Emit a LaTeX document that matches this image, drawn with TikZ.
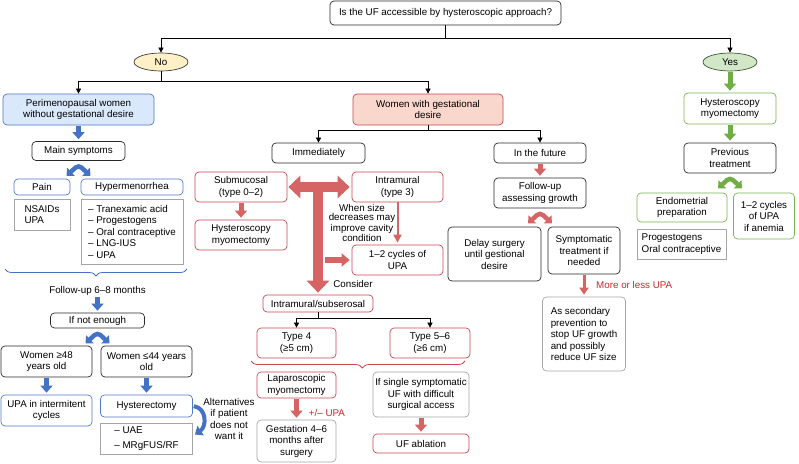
\documentclass[tikz,border=0pt]{standalone}
\usepackage{fontspec}
\setmainfont{Liberation Sans}
\usetikzlibrary{arrows.meta,shapes.geometric,decorations.pathreplacing,calc}
\definecolor{boxblack}{RGB}{40,40,40}
\definecolor{ufblue}{RGB}{80,120,200}
\definecolor{perifill}{RGB}{218,232,252}
\definecolor{ufred}{RGB}{200,70,80}
\definecolor{wgdfill}{RGB}{250,215,205}
\definecolor{ufgreen}{RGB}{120,180,80}
\definecolor{ufgray}{RGB}{165,165,165}
\definecolor{nofill}{RGB}{255,240,200}
\definecolor{noline}{RGB}{60,60,60}
\definecolor{yesfill}{RGB}{210,230,200}
\definecolor{yesline}{RGB}{60,90,50}
\definecolor{arrowblue}{RGB}{68,114,196}
\definecolor{arrowred}{RGB}{215,100,100}
\definecolor{arrowgreen}{RGB}{112,173,71}
\definecolor{upared}{RGB}{200,40,40}
\begin{document}
\begin{tikzpicture}[
x=1pt, y=-1pt,
font=\fontsize{9.8}{11.5}\selectfont,
>={Triangle[width=5pt,length=5pt]},
sz/.style 2 args={minimum width=#1pt, minimum height=#2pt},
base/.style={
  draw,
  rounded corners=4pt,
  align=center,
  inner sep=1pt,
  line width=0.7pt
  },
blkbox/.style={base, draw=boxblack},
bluebox/.style={base, draw=ufblue},
redbox/.style={base, draw=ufred},
greenbox/.style={base, draw=ufgreen},
graybox/.style={base, draw=ufgray},
listbox/.style={graybox, sharp corners, align=left},
answer/.style={ellipse, draw, inner sep=0pt, minimum width=54pt, minimum height=18pt, line width=0.7pt},
note/.style={align=center, inner sep=0pt},
link/.style={->, line width=0.6pt},
blockarrow/.style={line width=5pt, -{Triangle[width=12pt,length=7pt]}, shorten <=1pt, shorten >=2pt},
bluearrow/.style={blockarrow, draw=arrowblue},
redarrow/.style={blockarrow, draw=arrowred},
greenarrow/.style={blockarrow, draw=arrowgreen},
fork/.style={line width=4.5pt, rounded corners=4pt, {Triangle[width=11pt,length=6pt]}-{Triangle[width=11pt,length=6pt]}},
bigtip/.style={line width=10pt, -{Triangle[width=22pt,length=12pt]}},
fancybrace/.style={decorate, decoration={brace, mirror, amplitude=7pt, #1}, line width=0.8pt}
]
\useasboundingbox (0,0) rectangle (799,463);

% question and answers
\node[blkbox, sz={231}{24}] (q) at (445.5,13) {Is the UF accessible by hysteroscopic approach?};
\node[answer, fill=nofill, draw=noline] (no) at (161,62) {No};
\node[answer, fill=yesfill, draw=yesline] (yes) at (730,62) {Yes};

\node[bluebox, fill=perifill, sz={151}{31}] (peri) at (78.5,109.5) {Perimenopausal women\\without gestational desire};
\node[redbox, fill=wgdfill, sz={150}{31}] (wgd) at (428,109.5) {Women with gestational\\desire};
\node[greenbox, sz={92}{31}] (hm1) at (730,108.5) {Hysteroscopy\\myomectomy};

% without gestational desire
\node[blkbox, sz={93}{19}] (ms) at (78.5,151) {Main symptoms};
\node[bluebox, sz={56}{16}] (pain) at (42,187) {Pain};
\node[bluebox, sz={102}{16}] (hyper) at (132,187) {Hypermenorrhea};
\node[listbox, sz={56}{31}] (nsaid) at (42,214.5) {NSAIDs\\UPA};
\node[listbox, sz={102}{65}] (hlist) at (132,231.5) {– Tranexamic acid\\– Progestogens\\– Oral contraceptive\\– LNG-IUS\\– UPA};
\node[note] (fu) at (97.5,291) {Follow-up 6–8 months};
\node[blkbox, sz={94}{15}] (ne) at (97.5,320.5) {If not enough};
\node[blkbox, sz={91}{31}] (w48) at (46.5,361.5) {Women ≥48\\years old};
\node[blkbox, sz={91}{31}] (w44) at (146.5,361.5) {Women ≤44 years\\old};
\node[bluebox, sz={91}{31}] (upa) at (46.5,410.5) {UPA in intermitent\\cycles};
\node[bluebox, sz={92}{22}] (hyst) at (146.5,406) {Hysterectomy};
\node[listbox, sz={92}{31}] (alt) at (146.5,438.5) {– UAE\\[3pt]– MRgFUS/RF};
\node[note] (alttxt) at (229,419) {Alternatives\\if patient\\does not\\want it};

% with gestational desire
\node[blkbox, sz={93}{20}] (imm) at (318.5,153) {Immediately};
\node[blkbox, sz={92}{20}] (fut) at (540,153) {In the future};
\node[redbox, sz={92}{30}] (sub) at (241,187) {Submucosal\\(type 0–2)};
\node[redbox, sz={92}{30}] (hm2) at (241,235) {Hysteroscopy\\myomectomy};
\node[redbox, sz={91}{30}] (intra) at (397.5,187) {Intramural\\(type 3)};
\node[redbox, sz={91}{30}] (cyc) at (397.5,260) {1–2 cycles of\\UPA};
\node[note, font=\fontsize{9.8}{9}\selectfont] (when) at (362,223) {When size\\decreases may\\improve cavity\\condition};
\node[note] (cons) at (353,284) {Consider};
\node[redbox, sz={110}{17}] (ims) at (318,303.5) {Intramural/subserosal};
\node[redbox, sz={79}{30}] (t4) at (296.5,343) {Type 4\\(≥5 cm)};
\node[redbox, sz={80}{30}] (t56) at (430,343) {Type 5–6\\(≥6 cm)};
\node[redbox, sz={79}{26}] (lap) at (296.5,385) {Laparoscopic\\myomectomy};
\node[note, text=upared] (pmupa) at (327,413) {+/– UPA};
\node[graybox, sz={79}{42}] (gest) at (296.5,441) {Gestation 4–6\\months after\\surgery};
\node[graybox, sz={96}{45}] (single) at (421,394.5) {If single symptomatic\\UF with difficult\\surgical access};
\node[redbox, sz={96}{19}] (abl) at (421,443.5) {UF ablation};

\node[blkbox, sz={92}{30}] (fag) at (540,193) {Follow-up\\assessing growth};
\node[blkbox, sz={93}{54}] (delay) at (494.5,254) {Delay surgery\\until gestional\\desire};
\node[blkbox, sz={72}{47}] (symp) at (584,250.5) {Symptomatic\\treatment if\\needed};
\node[note, text=upared, anchor=west] (more) at (596,285) {More or less UPA};
\node[graybox, sz={83}{74}, align=left] (sec) at (584,334) {As secondary\\prevention to\\stop UF growth\\and possibly\\reduce UF size};

% hysteroscopic approach
\node[blkbox, sz={92}{30}] (pt) at (730,158) {Previous\\treatment};
\node[greenbox, sz={90}{29}] (endo) at (682,207.5) {Endometrial\\preparation};
\node[greenbox, sz={61}{46}] (cyc2) at (764,216) {1–2 cycles\\of UPA\\if anemia};
\node[listbox, sz={89}{30}] (prog) at (681.5,244) {Progestogens\\Oral contraceptive};

% thin connectors
\coordinate (qj) at (445.5,38);
\coordinate (noj) at (161,81);
\coordinate (wgdj) at (428,130);
\coordinate (imsj) at (318,318);
\foreach \s/\j/\l/\r in {q/qj/no/yes, no/noj/peri/wgd, wgd/wgdj/imm/fut, ims/imsj/t4/t56}
{
  \draw[line width=0.6pt] (\s) -- (\j);
  \draw[link] (\j) -| (\l);
  \draw[link] (\j) -| (\r);
}

% block arrows
\foreach \a/\b in {peri/ms, fu/ne, w48/upa, w44/hyst}
  \draw[bluearrow] (\a) -- (\b);
\foreach \a/\b in {sub/hm2, fut/fag, lap/gest, single/abl}
  \draw[redarrow] (\a) -- (\b);
\foreach \a/\b in {yes/hm1, hm1/pt}
  \draw[greenarrow] (\a) -- (\b);
\draw[redarrow, line width=3pt, -{Triangle[width=9pt,length=7pt]}] (symp) -- (sec);
\draw[arrowred, line width=2pt, -{Triangle[width=8pt,length=8pt]}, shorten >=2pt] (intra) -- (cyc);

% forks
\foreach \n/\c in {ms/arrowblue, ne/arrowblue, fag/arrowred, pt/arrowgreen}
  \draw[fork, draw=\c] ($(\n.south)+(-12,15)$) -- ($(\n.south)+(0,4)$) -- ($(\n.south)+(12,15)$);

% the T
\coordinate (tj) at (318,187);
\coordinate (tb) at (324,260);
\draw[redarrow, bigtip, {Triangle[width=22pt,length=12pt]}-{Triangle[width=22pt,length=12pt]}] (sub) -- (intra);
\draw[redarrow, bigtip] (tj) -- (ims);
\draw[redarrow, line width=6pt, -{Triangle[width=13pt,length=8pt]}] (tb) -- (cyc);

% alternatives
\draw[bluearrow, line width=4pt, -{Triangle[width=11pt,length=7pt]}, shorten >=0pt] (hyst.east) .. controls +(14,2) and +(12,-8) .. ($(alt.east)+(2,-4)$);

% braces
\draw[fancybrace={aspect=0.5}, draw=arrowblue] (5,269) -- (187,269);
\draw[fancybrace={aspect=0.52}, draw=ufred] (251,361) -- (465,361);
\end{tikzpicture}
\end{document}
